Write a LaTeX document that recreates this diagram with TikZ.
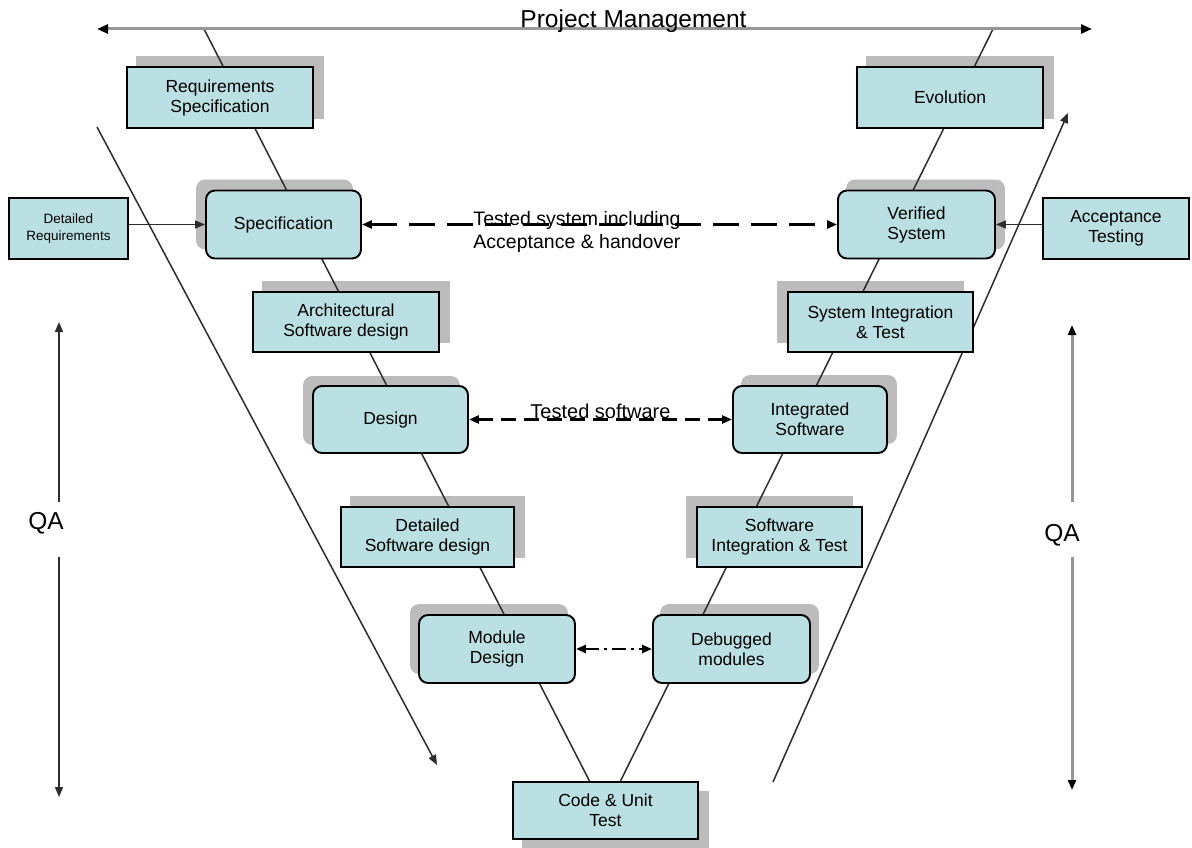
\documentclass[tikz,border=0pt]{standalone}
\usepackage{fontspec}
\setmainfont{Liberation Sans}
\usetikzlibrary{arrows.meta}
\pgfdeclarelayer{shade}
\pgfdeclarelayer{lines}
\pgfsetlayers{shade,lines,main}
\definecolor{boxfill}{RGB}{187,224,228}
\definecolor{shadegray}{RGB}{188,188,188}
\definecolor{linegray}{RGB}{45,45,45}
\definecolor{pmgray}{RGB}{150,150,150}

% gray block behind a stage box: [options]{node}{dx}{dy}
\newcommand\boxshade[4][]{%
  \begin{pgfonlayer}{shade}
    \fill[shadegray,#1] ([shift={(#3,#4)}]#2.south west) rectangle ([shift={(#3,#4)}]#2.north east);
  \end{pgfonlayer}}

\begin{document}
\begin{tikzpicture}[x=1pt,y=-1pt,
  stage/.style={draw=black, line width=1.9pt, fill=boxfill, align=center, inner sep=0pt,
    font=\fontsize{17.5}{20}\selectfont},
  roundstage/.style={stage, rounded corners=9pt},
  vline/.style={draw=linegray, line width=1.5pt},
  tipa/.style={-{Triangle[length=10pt,width=8pt]}},
  both/.style={{Triangle[length=10pt,width=8pt]}-{Triangle[length=10pt,width=8pt]}},
  bigtext/.style={font=\fontsize{24.5}{28}\selectfont},
  midtext/.style={font=\fontsize{19.5}{23}\selectfont, align=center}]
\useasboundingbox (0,0) rectangle (1192,848);

% ---------- stage boxes ----------
\node[stage, minimum width=186pt, minimum height=61pt] (reqspec) at (220,97.5) {Requirements\\Specification};
\node[stage, minimum width=186pt, minimum height=61pt] (evol) at (950,97.5) {Evolution};
\node[stage, minimum width=119pt, minimum height=61pt, font=\fontsize{13.5}{17}\selectfont] (detreq) at (68.5,228.5) {Detailed\\Requirements};
\node[roundstage, minimum width=155pt, minimum height=68pt] (spec) at (283.5,224.5) {Specification};
\node[roundstage, minimum width=157pt, minimum height=68pt] (versys) at (916.5,224.5) {Verified\\System};
\node[stage, minimum width=146pt, minimum height=61pt] (acctest) at (1116,228.5) {Acceptance\\Testing};
\node[stage, minimum width=186pt, minimum height=60pt] (arch) at (346,322) {Architectural\\Software design};
\node[stage, minimum width=185pt, minimum height=60pt] (sysint) at (880.5,322) {System Integration\\\& Test};
\node[roundstage, minimum width=155pt, minimum height=67pt] (design) at (390.5,419.5) {Design};
\node[roundstage, minimum width=154pt, minimum height=67pt] (intsw) at (810,419.5) {Integrated\\Software};
\node[stage, minimum width=173pt, minimum height=60pt] (detsw) at (427.5,537) {Detailed\\Software design};
\node[stage, minimum width=165pt, minimum height=60pt] (swint) at (779.5,537) {Software\\Integration \& Test};
\node[roundstage, minimum width=156pt, minimum height=68pt] (moddes) at (497,649) {Module\\Design};
\node[roundstage, minimum width=157pt, minimum height=68pt] (debug) at (731.5,649) {Debugged\\modules};
\node[stage, minimum width=185pt, minimum height=57pt] (code) at (605.5,810.5) {Code \& Unit\\Test};

% ---------- shadows ----------
\boxshade{reqspec}{10}{-10}
\boxshade{evol}{10}{-10}
\boxshade[rounded corners=9pt]{spec}{-9}{-10}
\boxshade[rounded corners=9pt]{versys}{9}{-10}
\boxshade{arch}{10}{-10}
\boxshade{sysint}{-10}{-10}
\boxshade[rounded corners=9pt]{design}{-9}{-9}
\boxshade[rounded corners=9pt]{intsw}{9}{-10}
\boxshade{detsw}{10}{-10}
\boxshade{swint}{-10}{-10}
\boxshade[rounded corners=9pt]{moddes}{-8}{-10}
\boxshade[rounded corners=9pt]{debug}{8}{-10}
\boxshade{code}{10}{10}

% ---------- project management ----------
\coordinate (pmL) at (97,29);
\coordinate (pmR) at (1092,29);
\draw[pmgray, line width=3pt,
  {Triangle[length=11pt,width=9pt,color=black]}-{Triangle[length=11pt,width=9pt,color=black]}] (pmL) -- (pmR);
\node[bigtext, anchor=base] (pm) at (633.5,28) {Project Management};

% ---------- V lines and long diagonals ----------
\coordinate (vLtop) at (204,29);
\coordinate (vLbot) at (590,782);
\coordinate (vRtop) at (993,29);
\coordinate (vRbot) at (620,782);
\coordinate (dLs) at (97,127);
\coordinate (dLe) at (437,765);
\coordinate (dRs) at (773,782);
\coordinate (dRe) at (1068,113);
\begin{pgfonlayer}{lines}
  \draw[vline] (vLtop) -- (vLbot);
  \draw[vline] (vRtop) -- (vRbot);
  \draw[vline, tipa] (dLs) -- (dLe);
  \draw[vline, tipa] (dRs) -- (dRe);
\end{pgfonlayer}

% ---------- inputs into the V ----------
\draw[linegray, line width=1.4pt, tipa] (detreq.east |- spec.west) -- (spec.west);
\draw[linegray, line width=1.4pt, tipa] (acctest.west |- versys.east) -- (versys.east);

% ---------- verification links ----------
\draw[line width=3pt, both, dash pattern=on 26pt off 12pt] (spec.east) -- (versys.west);
\node[midtext] (tsys) at (577,231.5) {Tested system including\\Acceptance \& handover};
\draw[line width=2.3pt, both, dash pattern=on 15pt off 8pt] (design.east) -- (intsw.west);
\node[font=\fontsize{20}{24}\selectfont, anchor=base] (tsw) at (600.5,418) {Tested software};
\draw[line width=2.3pt, both, dash pattern=on 14pt off 5pt on 3pt off 5pt] (moddes.east) -- (debug.west);

% ---------- QA ----------
\node[bigtext] (qaL) at (46,523) {QA};
\coordinate (qaLa) at (59,502);
\coordinate (qaLtop) at (59,322);
\coordinate (qaLb) at (59,557);
\coordinate (qaLbot) at (59,797);
\draw[linegray, line width=1.5pt, tipa] (qaLa) -- (qaLtop);
\draw[linegray, line width=1.5pt, tipa] (qaLb) -- (qaLbot);

\node[bigtext] (qaR) at (1062,535) {QA};
\coordinate (qaRa) at (1072,502);
\coordinate (qaRtop) at (1072,325);
\coordinate (qaRb) at (1072,557);
\coordinate (qaRbot) at (1072,790);
\draw[pmgray, line width=3pt, -{Triangle[length=10pt,width=8pt,color=black]}] (qaRa) -- (qaRtop);
\draw[pmgray, line width=3pt, -{Triangle[length=10pt,width=8pt,color=black]}] (qaRb) -- (qaRbot);
\end{tikzpicture}
\end{document}
